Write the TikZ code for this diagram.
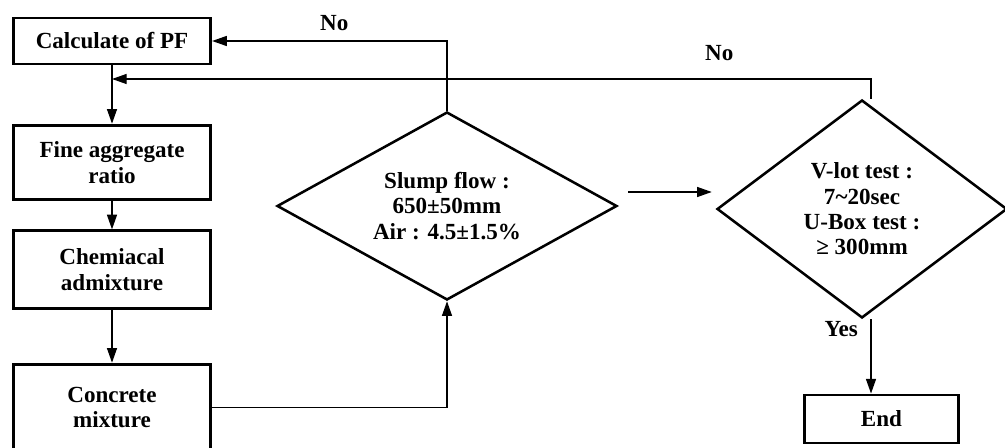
\documentclass[tikz,border=0pt]{standalone}
\usepackage{fontspec}
\setmainfont{Liberation Serif}
\usetikzlibrary{arrows.meta,positioning,shapes.geometric}

\begin{document}
\begin{tikzpicture}[
        x=0.75pt, y=-0.75pt,
        font=\fontsize{17.3}{19}\selectfont\bfseries,
        proc/.style={draw, line width=2.2pt, align=center, inner sep=2pt,
                     minimum width=148pt},
        dec/.style={draw, diamond, line width=1.9pt, align=center,
                    inner sep=0pt},
        arr/.style={-{Triangle[length=11pt,width=7.5pt]}, line width=1pt}
      ]
        \useasboundingbox (0,0) rectangle (1005,448);
        \node[proc, minimum height=34.5pt] (calcpf)  at (112,41)    {Calculate of PF};
        \node[proc, minimum height=56pt]   (fineagg) at (112,162.5) {Fine aggregate\\ratio};
        \node[proc, minimum height=58pt]   (chemadm) at (112,269.5) {Chemiacal\\admixture};
        \node[proc, minimum height=65pt]   (mix)     at (112,407.5) {Concrete\\mixture};
        \node[dec, aspect=1.8, minimum width=255pt, minimum height=141pt]
             (slump) at (447,206) {Slump flow :\\650±50mm\\Air : 4.5±1.5\%};
        \node[dec, aspect=1.33, minimum width=217.5pt, minimum height=163.5pt]
             (vtest) at (862,209) {V-lot test :\\7\textasciitilde20sec\\U-Box test :\\≥ 300mm};
        \node[proc, minimum width=115pt, minimum height=36pt] (finish) at (881.5,419) {End};
        \coordinate (join) at (112,79);
        \draw[arr] (calcpf) -- (fineagg);
        \draw[arr] (fineagg) -- (chemadm);
        \draw[arr] (chemadm) -- (mix);
        \draw[arr] (mix.east) -| (slump.south);
        \draw[arr] (slump.north) |- node[pos=0.74, above=4pt] {No} (calcpf.east);
        \draw[arr] ([xshift=6.75pt]vtest.north) |- node[pos=0.6, above=9.5pt] {No} (join);
        \draw[arr] ([xshift=7.5pt,yshift=10.5pt]slump.east) -- ([xshift=-3pt,yshift=12.75pt]vtest.west);
        \draw[arr] ([xshift=6.75pt]vtest.south)
           -- node[pos=0.13, left=6pt] {Yes} ([xshift=6.75pt]vtest.south |- finish.north);
      \end{tikzpicture}
\end{document}
